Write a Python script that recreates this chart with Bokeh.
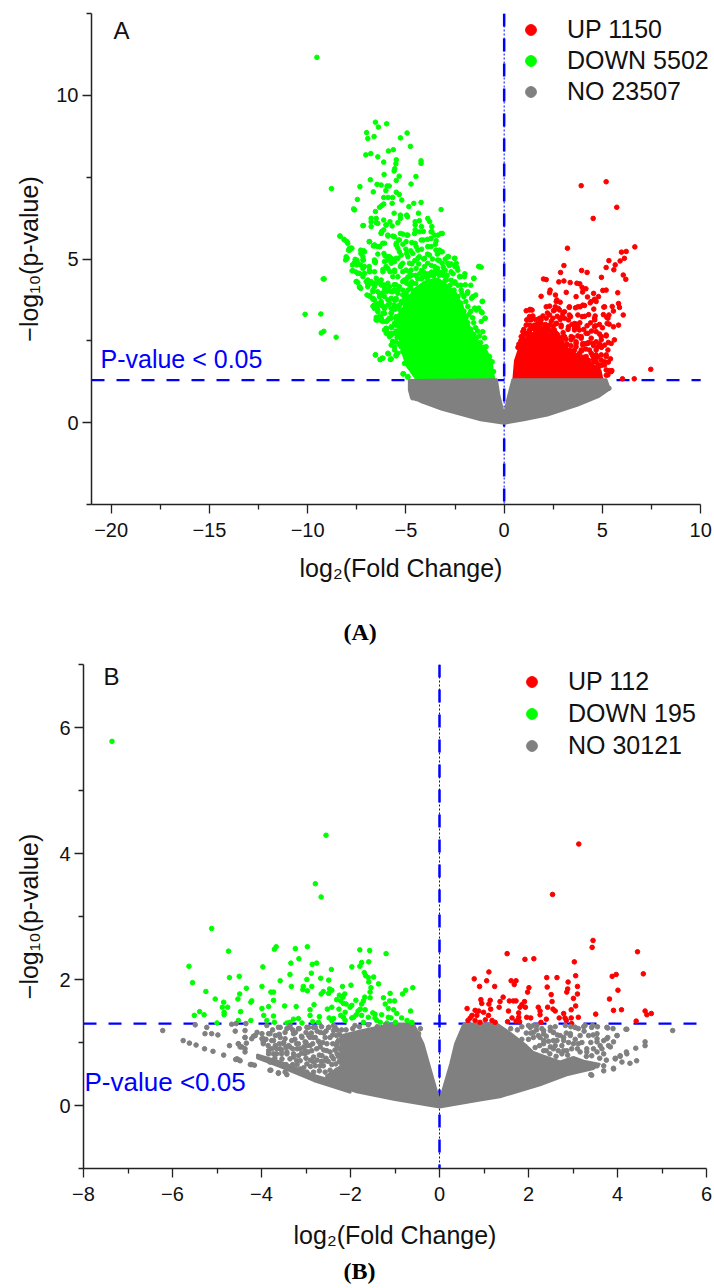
from bokeh.plotting import figure
from bokeh.layouts import column
from bokeh.models import Range1d, FixedTicker, Span, Label, Legend, LegendItem, Title
from bokeh.embed import file_html
from bokeh.resources import INLINE

FONT = "Liberation Sans"
BLUE = "#0000FF"; RED = "#FF0000"; GREEN = "#00FF00"; GREY = "#808080"

# ---------- Panel A ----------
a_xticks = [-20, -15, -10, -5, 0, 5, 10]
a_xminor = [-17.5, -12.5, -7.5, -2.5, 2.5, 7.5]
a_yticks = [0, 5, 10]
a_yminor = [-2.5, 2.5, 7.5, 12.5]
a_threshold = 1.3
a_labels = ["UP 1150", "DOWN 5502", "NO 23507"]

a_down_mass = [(-4.48,1.33),(-4.99,1.76),(-5.24,2.27),(-5.41,2.93),(-5.33,3.24),(-5.07,3.6),(-4.9,3.7),(-4.65,4.05),(-4.05,4.31),
               (-3.38,4.41),(-3.04,4.26),(-2.44,3.95),(-2.1,3.54),(-1.76,2.93),(-1.35,2.5),(-0.9,2.2),(-0.66,1.92),(-0.5,1.33)]
a_up_mass = [(0.47,1.33),(0.55,1.9),(0.8,2.35),(1.2,2.65),(1.7,2.8),(2.3,2.8),(2.8,2.5),(3.2,2.3),(3.6,2.0),(4.1,1.95),(4.55,1.75),
             (4.9,1.6),(5.0,1.33)]
a_no_mass = [(-4.85,1.3),(-0.37,1.33),(-0.25,0.85),(0,0.25),(0.15,0.7),(0.42,1.33),(5.2,1.33),(5.38,1.02),
             (4.8,0.78),(3.75,0.52),(2.2,0.22),(1.0,0.07),(0,-0.03),(-1.2,0.07),(-3.2,0.4),(-4.2,0.62),
             (-4.75,0.78),(-4.85,1.0)]

a_down = [(-9.53,11.16),(-6.55,9.18),(-5.98,9.13),(-6.4,9.03),(-7.0,8.86),(-6.94,8.68),(-6.62,8.74),(-4.94,8.85),
 (-5.28,8.7),(-4.77,8.44),(-5.64,8.34),(-5.89,8.3),(-6.79,8.22),(-7.04,8.18),(-6.43,8.12),(-6.13,7.96),(-5.49,8.03),
 (-5.51,7.91),(-4.23,8.0),(-4.23,7.92),(-5.57,7.76),(-5.6,7.69),(-6.11,7.58),(-5.34,7.53),(-4.49,7.52),(-6.81,7.42),
 (-5.49,7.4),(-4.74,7.29),(-8.79,7.15),(-7.34,7.21),(-6.47,7.28),(-6.26,7.26),(-5.96,7.23),(-5.85,7.23),(-6.02,7.09),
 (-6.66,7.05),(-5.49,7.04),(-5.34,6.97),(-7.47,6.82),(-6.13,6.88),(-5.91,6.88),(-5.68,6.88),(-5.21,6.8),(-6.13,6.68),
 (-6.23,6.63),(-6.34,6.58),(-5.7,6.7),(-4.6,6.7),(-4.23,6.73),(-4.85,6.6),(-7.66,6.53),(-7.62,6.5),(-3.21,6.51),
 (-6.55,6.45),(-5.6,6.4),(-5.28,6.34),(-4.96,6.34),(-5.28,6.24),(-4.92,6.29),(-6.77,6.24),(-6.51,6.24),(-6.77,6.14),
 (-6.51,6.11),(-6.13,6.19),(-5.81,6.14),(-4.36,6.4),(-4.53,6.14),(-4.32,6.17),(-3.89,6.24),(-3.79,6.14),(-4.53,6.04),
 (-4.21,5.99),(-3.68,5.99),(-7.19,6.02),(-6.02,6.04),(-5.7,6.01),(-6.23,5.84),(-6.13,5.89),(-5.28,5.78),(-4.96,5.73),
 (-4.53,5.89),(-4.11,5.84),(-3.68,5.84),(-3.15,5.78),(-3.36,5.73),(-8.36,5.7),(-8.15,5.6),(-8.0,5.53),(-7.87,5.33),
 (-8.04,5.07),(-6.87,5.53),(-6.66,5.4),(-6.34,5.38),(-5.49,5.48),(-5.38,5.58),(-4.53,5.48),(-4.11,5.58),(-3.89,5.38),
 (-3.47,5.27),(-3.15,5.22),(-2.83,5.07),(-2.51,5.02),(-7.3,5.27),(-7.51,4.97),(-7.19,5.07),(-7.72,4.82),(-7.3,4.82),
 (-6.87,4.77),(-6.55,4.92),(-5.91,5.07),(-5.6,4.97),(-4.96,5.17),(-4.32,5.07),(-3.89,4.87),(-3.15,4.87),(-2.51,4.77),
 (-2.23,4.46),(-1.3,4.77),(-1.55,4.41),(-9.21,4.39),(-7.51,4.31),(-7.3,4.1),(-6.87,4.26),(-6.55,4.26),(-6.13,4.21),
 (-5.6,4.21),(-5.81,4.61),(-5.28,4.77),(-4.74,4.66),(-4.96,4.26),(-4.11,4.46),(-3.68,4.26),(-3.47,4.56),(-2.94,4.36),
 (-2.51,4.26),(-2.19,4.05),(-1.87,3.95),(-1.66,3.8),(-6.98,3.9),(-6.23,3.95),(-5.6,4.05),
 (-7.16,6.02),(-6.77,5.99),(-6.43,6.09),(-6.0,6.04),(-5.41,6.11),(-8.35,5.7),(-8.13,5.58),(-7.96,5.48),(-7.75,5.33),
 (-7.87,5.27),(-7.58,4.99),(-7.48,4.92),(-7.28,5.17),(-7.11,5.22),(-7.19,4.97),(-7.74,4.64),(-7.53,4.6),(-7.36,4.56),
 (-7.11,4.77),(-6.85,4.66),(-6.6,4.92),(-6.85,5.53),(-6.6,5.4),(-6.43,5.38),(-6.18,5.48),(-6.26,5.78),(-5.92,5.73),
 (-5.58,5.68),(-7.53,4.31),(-7.36,4.15),(-7.02,4.31),(-6.77,4.26),(-6.51,4.41),(-6.34,4.31),(-6.85,3.87),(-6.68,3.77),
 (-6.6,3.6),(-6.43,3.53),(-6.26,3.65),(-6.09,3.5),(-6.43,3.14),(-6.26,3.19),(-6.0,2.83),(-5.92,2.73),(-5.75,2.68),
 (-5.67,2.48),(-5.58,2.22),(-5.5,2.04),(-5.89,2.1),(-5.79,1.93),(-6.55,2.07),(-6.31,1.93),(-6.21,1.97),(-5.12,1.49),
 (-4.9,1.41),(-9.16,4.39),(-10.13,3.31),(-9.33,3.32),(-9.31,2.74),(-9.18,2.79),(-8.55,2.61),
 (-5.9,4.05),(-5.5,3.75),(-5.75,3.35),(-5.3,3.45),(-5.55,3.05),(-5.2,2.9),(-5.72,2.9),
 (-1.17,4.75),(-1.1,3.71),(-1.12,3.36),(-0.97,3.19),(-1.09,2.78),(-1.0,2.59),(-0.92,2.32),(-0.75,2.02),(-0.61,1.86),
 (-0.54,1.56),(-1.45,3.9),(-1.3,3.5),(-1.7,4.2),(-2.0,4.55),(-2.4,4.75),(-2.8,4.8),(-3.3,4.95),(-3.7,4.8),(-4.2,4.65),
 (-4.7,4.3),(-5.0,3.95),(-4.4,4.4),(-3.0,4.65),(-2.6,4.55),
 (-7.62,4.89),(-7.5,4.82),(-7.19,4.71),(-6.6,4.97),(-6.56,4.89),(-7.16,4.97),(-7.28,5.17),(-7.14,5.25),(-7.79,5.33),(-7.92,5.27),
 (-7.99,5.02),(-8.07,4.97),(-7.7,4.64),(-7.45,4.56),(-7.11,4.56),(-6.85,4.61),(-6.6,4.61),(-6.43,5.15),(-6.12,5.17),(-6.06,5.09),
 (-6.6,5.43),(-6.34,5.38),(-6.09,5.48),(-6.85,5.53),(-5.92,4.97),(-5.75,5.02),(-5.5,5.02),(-5.24,5.12),(-5.5,5.43),(-5.41,5.33),
 (-5.33,5.22),(-4.99,5.53),(-5.33,5.58),(-5.67,5.7),(-5.92,5.7),(-6.26,5.8),(-5.16,5.76),(-4.9,5.73),(-4.56,5.78),(-4.31,5.83),
 (-3.72,5.83),(-3.55,5.73),(-3.72,5.63),(-3.46,5.56),(-3.21,5.78),(-4.22,5.58),(-4.48,5.38),(-4.65,5.17),(-4.39,5.27),(-3.72,5.38),
 (-3.29,5.27),(-3.21,5.22),(-2.87,5.07),(-2.53,5.02),(-2.44,4.87),(-2.87,4.87),(-3.38,4.97),(-3.8,5.12),(-4.05,5.02),(-4.39,5.02),
 (-4.9,5.07),(-4.82,4.87),(-5.16,4.87),(-5.75,4.87),(-6.01,4.77),(-6.17,4.68),(-5.58,4.61),(-5.16,4.61),(-4.82,4.61),(-4.48,4.71),
 (-4.05,4.77),(-3.55,4.77),(-3.12,4.61),(-2.7,4.61),(-2.36,4.66),(-2.27,4.46),(-2.02,4.46),(-1.98,4.21),(-1.85,4.0),(-1.59,3.85),
 (-1.26,4.77),(-1.54,4.41),(-1.12,3.7),(-1.17,3.39),(-0.97,3.19),(-1.17,3.09),(-1.42,3.44),(-6.77,4.31),(-6.51,4.26),(-6.94,4.36),
 (-7.19,4.46),(-7.45,4.28),(-7.36,4.13),(-6.94,4.15),(-6.6,4.15),(-6.26,4.21),(-6.09,4.15),(-5.84,4.15),(-5.5,4.21),(-5.16,4.31),
 (-4.99,4.36),(-4.82,4.21),(-5.16,4.05),(-5.41,4.05),(-5.75,4.0),(-6.09,4.05),(-6.43,4.0),(-6.68,4.05),(-6.85,3.87),(-6.68,3.8),
 (-6.34,3.85),(-6.09,3.85),(-5.75,3.8),(-5.5,3.8),(-5.07,3.8),(-6.68,3.56),(-6.43,3.63),(-6.17,3.56),(-5.92,3.59),(-5.58,3.46),
 (-5.33,3.59),(-6.43,3.39),(-6.17,3.34),(-5.75,3.34),(-6.51,3.22),(-6.26,3.12),(-5.92,3.14),(-5.5,3.19),(-6.0,2.88),(-6.34,3.24),
 (-6.09,2.83),(-6.0,2.73),(-5.75,2.73),(-5.67,2.47),(-5.58,2.32),(-5.5,2.07),(-6.55,2.07),(-6.31,1.93),(-6.17,1.97),(-5.92,2.12),
 (-5.75,1.95),(-5.15,1.49),(-4.9,1.38),(-6.51,3.14),(-6.26,3.19),(-6.0,3.09),(-5.75,3.19),(-5.58,3.03),(-6.6,3.49),(-6.34,3.59),
 (-6.09,3.49),(-5.84,3.65),(-5.45,2.6),(-5.5,2.8),(-5.6,3.6),(-5.2,3.35),
 (-6.09,4.92),(-5.84,5.07),(-5.58,4.92),(-5.41,5.02),(-5.92,4.71),(-5.58,4.66),(-6.17,4.61),(-5.24,4.82),(-4.99,4.66),(-5.41,4.46),
 (-5.67,4.46),(-6.26,4.36),(-6.6,4.26),(-6.94,4.21),(-6.26,4.21),(-5.92,4.26),(-5.58,4.21),(-5.33,4.15),(-5.07,4.36),(-4.82,4.46),
 (-4.73,4.21),(-6.68,4.0),(-6.34,3.9),(-6.0,4.0),(-5.67,4.0),(-5.41,3.95),(-5.16,3.9),(-4.9,4.05),(-6.6,3.75),(-6.26,3.7),(-5.92,3.75),
 (-5.58,3.75),(-5.24,3.7),(-4.99,3.75),(-6.43,3.44),(-6.09,3.34),(-5.75,3.49),(-5.5,3.54),(-5.16,3.44),(-6.51,3.14),(-6.17,3.09),
 (-5.84,3.19),(-5.5,3.24),(-5.24,3.14),(-6.0,2.88),(-5.75,2.93),(-5.5,2.98),(-5.24,2.83),(-5.84,2.63),(-5.58,2.73),(-5.24,2.63),
 (-5.75,2.37),(-5.5,2.47),(-5.24,2.32),(-5.41,2.12),(-5.16,2.17),(-4.99,2.02),(-5.07,1.81),(-4.73,1.71),(-4.56,1.56),
 (-4.9,4.45),(-4.7,4.5),(-4.5,4.5),(-4.3,4.55),(-4.1,4.6),(-3.9,4.55),(-3.7,4.6),(-3.5,4.65),(-3.3,4.6),(-3.1,4.5),(-2.9,4.5),(-2.7,4.35),
 (-2.5,4.3),(-2.35,4.2),(-2.2,4.2),(-2.15,3.95),(-2.05,3.85),(-1.95,3.7),(-1.85,3.55),(-1.8,3.3),(-1.7,3.4),(-1.6,3.2),(-1.55,3.05),
 (-1.45,2.9),(-1.35,2.8),(-1.25,2.65),(-1.5,3.5),(-4.7,4.85),(-4.35,4.85),(-4.1,5.0),(-3.65,5.0),(-3.4,5.15),(-3.0,5.0),(-2.7,4.85),
 (-3.9,5.15),(-4.2,5.3),(-3.5,5.45),(-3.9,5.6),(-4.7,5.5),(-5.0,5.3),(-5.15,5.45),(-4.75,5.25),(-4.55,4.95),(-3.1,4.75),(-3.4,4.72),(-3.8,4.5),
 (-5.1,3.65),(-4.9,3.85),(-4.75,4.1),(-4.5,4.25),(-4.2,4.4),(-3.9,4.42),(-3.6,4.48),(-3.3,4.5),(-3.0,4.35),(-2.75,4.2),(-2.55,4.05),
 (-2.35,3.85),(-2.2,3.65),(-2.05,3.4),(-1.95,3.2),(-1.85,3.05),(-1.7,2.85),(-1.55,2.7),(-1.4,2.6),(-1.2,2.45),(-1.05,2.3),
 (-5.35,2.4),(-5.45,2.7),(-5.45,3.1),(-5.3,3.3)]

a_up = [(3.92,7.24),(5.19,7.36),(5.73,6.58),(4.53,6.24),(3.22,5.33),(6.65,5.37),(6.21,5.23),(5.97,5.21),(6.12,5.02),
 (5.33,4.95),(5.9,4.94),(5.65,4.82),(3.04,4.8),(5.19,4.74),(5.58,4.67),(2.87,4.59),(3.94,4.65),(4.22,4.59),(6.06,4.51),
 (6.19,4.38),(4.95,4.44),(2.0,4.39),(2.14,4.37),(2.78,4.3),(3.04,4.33),(3.36,4.28),(3.7,4.26),(3.85,4.24),(3.97,4.13),
 (4.16,4.09),(3.99,3.99),(5.02,4.04),(5.19,4.05),(5.78,3.97),(4.55,3.95),(4.24,3.84),(4.8,3.85),(4.6,3.77),(3.66,3.85),
 (3.16,3.98),(2.34,4.05),(2.31,3.97),(2.61,3.9),(1.88,3.86),(2.68,3.75),(2.85,3.68),(2.31,3.56),(2.6,3.54),(2.51,3.42),
 (2.76,3.49),(3.31,3.52),(3.63,3.51),(3.87,3.54),(4.09,3.58),(4.38,3.66),(4.68,3.7),(4.56,3.47),(5.07,3.53),(5.5,3.55),
 (5.82,3.64),(5.87,3.52),(5.56,3.41),(5.33,3.29),(5.22,3.22),(6.06,3.29),(4.63,3.26),(4.61,3.14),(3.75,3.29),(3.97,3.24),
 (3.38,3.24),(3.27,3.14),(2.99,3.34),(2.95,3.24),(2.48,3.19),(1.97,3.26),(1.85,3.16),(1.71,3.03),(1.32,3.46),(1.42,3.44),
 (1.46,3.26),(1.37,3.14),(1.15,3.14),(1.29,2.98),(1.46,2.88),(2.09,2.93),(2.65,3.03),(2.9,2.98),(3.66,3.01),(3.58,2.88),
 (4.22,2.96),(4.65,2.96),(5.24,3.03),(5.34,3.01),(5.56,2.93),(5.82,2.98),(3.27,2.93),(1.03,2.73),(0.95,2.63),(4.68,2.78),
 (4.85,2.71),(5.19,2.65),(5.61,2.53),(5.45,2.42),(4.94,2.53),(4.26,2.73),(3.92,2.63),(3.41,2.53),(3.66,2.42),(4.51,2.42),
 (4.77,2.32),(5.28,2.22),(4.26,2.42),(4.0,2.42),(3.07,2.63),(2.65,2.73),(2.31,2.83),(1.97,2.73),(1.63,2.78),(5.41,1.95),
 (5.36,1.59),(5.48,1.59),(5.28,1.46),(7.46,1.63),(6.02,1.34),(6.62,1.34),(3.92,2.22),(4.43,2.12),(4.68,2.07),(4.94,2.07),
 (5.19,2.02),(5.11,1.86),(4.85,1.76),(3.58,2.22),(3.32,2.12),(3.41,1.91),(3.83,2.12),(3.83,1.86),(4.26,1.91),(4.68,1.86),
 (4.68,1.56),(4.43,1.66),(4.09,1.61),
 (0.87,2.63),(0.95,2.78),(1.12,2.73),(1.29,2.83),(1.46,2.68),(1.71,2.63),(1.8,2.78),(2.05,2.73),(2.22,2.88),(2.39,2.73),(2.56,2.83),
 (2.73,2.68),(2.9,2.58),(2.9,2.93),(2.65,3.03),(2.31,2.98),(1.88,3.03),(1.54,2.98),(1.12,2.98),(1.2,3.14),(1.29,3.24),(1.8,3.19),
 (1.88,3.14),(2.14,3.19),(2.31,3.29),(2.56,3.44),(2.82,3.44),(3.07,3.39),(3.07,3.19),(3.32,3.29),(3.58,3.03),(3.75,2.93),(3.83,2.83),
 (3.58,2.83),(3.41,2.63),(3.66,2.47),(3.92,2.58),(4.17,2.73),(4.17,2.42),(4.0,2.37),(3.66,2.32),(3.41,2.17),(4.43,2.58),(4.68,2.47),
 (4.94,2.63),(5.19,2.68),(5.11,2.37),(4.68,2.22),(4.34,2.22),(4.17,2.02),(3.75,2.02),(5.19,2.07),(4.94,1.91),(4.77,1.76),(4.6,3.19),
 (4.6,2.93),(5.11,3.54),(5.28,3.19),(4.43,3.7),(4.0,3.59),(3.75,3.54),(3.32,3.54),(2.65,3.7),(2.14,3.54),(1.29,3.44),(1.12,3.42),
 (3.83,1.71),(3.41,1.81),(3.66,1.61),(4.26,1.56),(4.85,1.46),(5.19,1.61),(5.45,1.56),(5.11,1.76),
 (0.75,2.4),(0.85,2.5),(1.0,2.85),(1.15,2.7),(1.35,2.95),(1.6,3.15),(1.65,2.9),(1.95,2.85),(2.1,3.0),(2.2,3.35),(2.4,3.1),(2.5,2.95),
 (2.7,3.25),(2.85,3.15),(3.0,2.75),(3.15,2.55),(3.25,2.85),(3.45,3.0),(3.5,2.6),(3.75,2.65),(3.85,3.05),(4.05,2.85),(4.1,3.25),(4.3,3.3),
 (4.4,3.05),(4.45,2.8),(4.85,3.0),(5.0,2.9),(5.05,3.3),(4.3,2.45),(4.55,2.35),(4.85,2.4),(5.3,2.45),(3.95,2.2),(4.15,2.25),(4.5,2.05),
 (4.75,2.0),(4.95,2.3),(5.3,1.85),(5.2,1.45),(4.95,1.75),(4.55,1.95),(3.4,2.35),(3.15,2.35),(2.95,2.6),(2.55,2.65),(1.6,2.55),(1.1,2.5),
 (0.7,2.3),(0.95,2.55),(1.3,2.75),(1.55,2.85),(1.85,2.9),(2.15,2.9),(2.45,2.8),(2.7,2.6),(2.95,2.45),(3.2,2.4),(3.35,2.2),(3.55,2.1),
 (3.75,2.05),(4.0,2.0),(4.3,1.9),(4.55,1.85),(4.8,1.7)]

a_no = [(-4.65,0.76),(-4.48,0.74),(-4.14,0.67),(-3.97,0.64),(5.02,0.95),(5.19,1.02),(5.33,1.05)]

# ---------- Panel B ----------
b_xticks = [-8, -6, -4, -2, 0, 2, 4, 6]
b_xminor = [-7, -5, -3, -1, 1, 3, 5]
b_yticks = [0, 2, 4, 6]
b_yminor = [-1, 1, 3, 5, 7]
b_threshold = 1.3
b_labels = ["UP 112", "DOWN 195", "NO 30121"]

b_no_mass = [(-1.03,1.3),(-0.58,1.3),(-0.36,0.98),(0,0.08),(0.24,0.66),(0.35,0.98),(0.54,1.3),(1.29,1.3),(1.6,1.15),(1.96,0.95),
             (2.11,0.85),(2.34,0.79),(2.71,0.7),(3.01,0.77),(3.24,0.71),(3.61,0.66),(3.46,0.58),(2.86,0.48),(2.26,0.32),(1.36,0.13),
             (0.91,0.08),(0,-0.03),(-1.03,0.09),(-1.86,0.21),(-2.53,0.37),(-2.55,0.47),(-2.23,0.62),(-2.23,1.11),(-1.78,1.19)]
b_no_band = [(-4.1,0.81),(-3.58,0.7),(-2.83,0.49),(-2.2,0.35),(-2.0,0.4),(-2.0,0.2),(-2.83,0.39),(-3.58,0.61),(-4.1,0.75)]

b_down = [(-7.36,5.78),(-2.55,4.29),(-2.79,3.52),(-2.66,3.31),(-5.12,2.81),(-3.67,2.52),(-3.71,2.48),(-2.97,2.52),(-3.24,2.49),
 (-4.74,2.45),(-1.79,2.47),(-1.57,2.46),(-1.2,2.41),(-3.16,2.33),(-3.34,2.26),(-2.86,2.24),(-2.76,2.26),(-1.75,2.27),(-1.59,2.28),
 (-1.79,2.21),(-1.97,2.2),(-5.63,2.21),(-3.97,2.2),(-2.43,2.16),(-2.88,2.1),(-3.36,2.08),(-1.69,2.11),(-1.66,2.06),(-1.6,2.03),
 (-1.48,2.04),(-4.5,2.05),(-4.72,2.03),(-2.67,2.02),(-2.49,1.99),(-2.98,2.0),(-3.58,1.98),(-5.55,1.95),(-1.59,1.96),(-1.37,1.93),
 (-1.99,1.91),(-2.18,1.89),(-3.99,1.89),(-3.33,1.89),(-3.06,1.89),(-2.87,1.89),(-1.54,1.87),(-0.6,1.87),(-0.76,1.83),(-4.34,1.86),
 (-5.25,1.81),(-3.79,1.8),(-3.73,1.8),(-3.07,1.84),(-2.97,1.82),(-2.47,1.85),(-2.42,1.83),(-2.61,1.81),(-2.66,1.77),(-2.49,1.78),
 (-4.49,1.77),(-1.56,1.8),(-1.11,1.78),(-0.83,1.77),(-2.13,1.77),(-2.25,1.75),(-2.17,1.72),(-1.68,1.72),(-1.56,1.71),(-1.26,1.71),
 (-4.53,1.69),(-5.04,1.69),(-3.73,1.67),(-4.22,1.66),(-4.24,1.64),(-4.85,1.64),(-2.31,1.68),(-2.22,1.66),(-1.88,1.67),(-1.71,1.66),
 (-1.12,1.66),(-1.01,1.66),(-2.16,1.62),(-2.1,1.61),(-2.82,1.6),(-1.97,1.59),(-1.75,1.61),(-1.22,1.61),(-2.01,1.56),(-3.48,1.58),
 (-3.22,1.57),(-3.84,1.57),(-4.88,1.56),(-4.76,1.56),(-3.99,1.54),(-2.52,1.53),(-2.42,1.56),(-2.26,1.53),(-2.91,1.52),(-1.15,1.54),
 (-1.03,1.52),(-0.65,1.5),(-1.78,1.53),(-1.67,1.52),(-1.83,1.5),(-2.12,1.48),(-4.47,1.49),(-5.39,1.49),(-5.29,1.44),(-5.51,1.43),
 (-4.84,1.48),(-4.84,1.44),(-2.91,1.43),(-3.95,1.43),(-3.73,1.42),(-2.7,1.41),(-2.22,1.43),(-1.87,1.44),(-1.75,1.43),(-1.5,1.47),
 (-1.45,1.45),(-1.3,1.44),(-0.96,1.46),(-0.85,1.39),(-1.15,1.4),(-1.09,1.39),(-2.16,1.4),(-1.97,1.39),(-1.93,1.4),(-1.6,1.4),
 (-1.45,1.39),(-2.48,1.39),(-2.38,1.38),(-3.17,1.38),(-3.28,1.37),(-4.52,1.35),(-4.24,1.35),(-3.88,1.35),(-5.0,1.31),(-3.71,1.32),
 (-3.43,1.31),(-3.36,1.32),(-3.09,1.31),(-2.85,1.33),(-2.72,1.32),(-2.42,1.35),(-2.12,1.35),(-1.71,1.32),(-1.41,1.35),(-1.33,1.32),
 (-1.18,1.31),(-0.99,1.32),(-0.73,1.35),(-0.62,1.32)]

b_up = [(3.13,4.15),(2.54,3.35),(3.45,2.62),(3.43,2.51),(4.45,2.44),(1.52,2.41),(1.92,2.32),(2.12,2.33),(3.03,2.28),(1.11,2.12),
 (0.78,2.01),(1.06,1.98),(1.61,1.98),(1.72,1.98),(2.41,2.03),(2.64,2.03),(3.06,2.06),(3.88,2.05),(3.97,2.08),(4.58,2.09),(0.9,1.89),
 (1.24,1.89),(1.68,1.92),(2.01,1.87),(2.42,1.88),(2.89,1.96),(3.1,1.89),(1.98,1.8),(2.88,1.85),(2.86,1.8),(4.01,1.83),(3.1,1.77),
 (2.51,1.76),(1.43,1.72),(3.01,1.7),(3.82,1.69),(0.93,1.68),(1.14,1.67),(1.57,1.66),(1.66,1.66),(1.72,1.66),(1.91,1.65),(1.36,1.65),
 (2.53,1.65),(0.95,1.62),(1.11,1.61),(1.85,1.6),(3.06,1.58),(0.62,1.54),(1.34,1.56),(1.15,1.53),(1.81,1.56),(1.93,1.56),(2.22,1.56),
 (2.43,1.56),(2.55,1.53),(2.96,1.52),(3.91,1.51),(4.09,1.52),(4.62,1.5),(0.8,1.51),(0.88,1.5),(0.99,1.48),(1.55,1.5),(2.26,1.5),
 (2.6,1.5),(1.78,1.47),(4.66,1.44),(4.76,1.46),(3.51,1.45),(2.26,1.44),(2.79,1.46),(0.73,1.43),(0.84,1.43),(1.1,1.43),(1.78,1.4),
 (1.96,1.4),(1.63,1.39),(2.05,1.39),(2.69,1.39),(2.4,1.37),(2.82,1.39),(2.96,1.39),(3.12,1.4),(0.69,1.39),(0.64,1.35),(0.8,1.35),
 (1.03,1.36),(1.18,1.35),(1.53,1.33),(1.72,1.34),(1.8,1.33),(2.28,1.32),(2.85,1.35),(2.97,1.3),(4.42,1.34),(0.91,1.32),(1.25,1.32)]

b_no = [(-6.22,1.19),(-5.76,1.03),(-5.62,0.99),(-5.47,0.96),(-5.28,0.9),(-5.09,0.86),(-4.85,0.8),(-4.58,0.73),(-4.5,0.72),(-4.25,0.65),
 (-4.16,0.64),(-3.79,0.56),(-3.62,0.51),(-3.43,0.49),(-5.49,1.28),(-5.23,1.24),(-5.27,1.14),(-5.12,1.14),(-4.98,1.12),(-4.67,1.29),
 (-4.59,1.18),(-4.72,0.95),(-4.52,0.98),(-4.44,0.93),(-4.37,1.08),(-4.35,1.3),(-4.34,0.99),(-4.37,0.85),(-4.1,1.16),(-4.18,1.1),
 (-3.99,1.06),(-3.96,0.98),(-3.88,1.27),(-3.81,1.14),(-3.73,1.03),(-3.84,0.87),(-3.66,0.9),(-3.58,1.08),(-3.62,1.24),(-3.43,1.22),
 (-3.36,1.27),(-3.28,1.14),(-3.17,0.98),(-3.36,0.93),(-3.43,0.85),(-3.28,0.77),(-3.13,0.71),(-3.02,0.82),(-2.91,1.08),(-2.79,1.24),
 (-2.68,0.98),(-2.76,0.9),(-2.83,0.69),(-2.61,0.63),(-2.49,1.24),(-2.46,1.08),(-2.53,0.87),(-2.38,1.27),(-2.98,1.24),(-3.17,1.22),
 (-3.81,0.69),(-2.98,0.95),(-2.83,1.08),(-3.54,0.74),(-3.73,0.82),(-0.43,1.22),(-0.47,1.14),(-0.4,0.93),
 (-3.1,1.1),(-3.0,1.0),(-2.6,1.15),(-2.55,0.75),(-2.7,0.8),(-2.9,0.62),(-3.05,0.6),(-3.2,0.9),(-3.5,1.0),(-3.55,0.88),(-3.2,0.65),
 (-4.57,1.3),(-4.37,1.19),(-4.37,1.08),(-4.14,1.11),(-4.22,1.06),(-3.99,1.14),(-3.96,1.06),(-3.96,1.01),(-3.84,1.14),(-3.77,1.03),
 (-3.69,1.11),(-3.58,1.24),(-3.47,1.16),(-3.36,1.24),(-3.24,1.16),(-3.09,1.08),(-2.94,1.24),(-2.94,1.11),(-2.83,1.24),(-2.68,1.16),
 (-2.49,1.24),(-2.38,1.19),(-3.77,0.9),(-3.69,0.95),(-3.84,0.82),(-3.66,0.82),(-3.51,0.98),(-3.47,1.06),(-3.32,1.03),(-3.39,0.95),
 (-3.58,0.9),(-3.21,0.98),(-3.13,0.9),(-3.02,1.01),(-2.91,0.95),(-2.79,1.08),(-2.57,1.08),(-2.31,1.11),(-3.43,0.82),(-3.28,0.82),
 (-3.17,0.79),(-3.02,0.87),(-2.87,0.87),(-2.68,0.93),(-2.53,0.98),(-2.46,0.85),(-2.64,0.79),(-2.83,0.77),(-2.98,0.66),(-3.21,0.71),
 (-3.36,0.74),(-2.79,0.63),(-2.68,0.63),(-2.57,0.71),(-2.38,0.74),(-2.46,0.56),(-2.57,0.53),(-2.83,0.53),(-2.98,0.53),(-3.13,0.58),
 (-2.31,0.56),(-3.81,0.56),(-3.62,0.52),(-3.47,0.53),(-4.22,0.65),(-4.55,0.74),(-4.48,0.71),(-4.52,0.98),(-4.48,0.93),(-4.37,0.9),
 (-2.31,0.95),(-2.3,0.82),(-2.33,0.66),(-2.4,0.98),(-2.38,0.45),
 (-2.35,1.25),(-2.3,1.0),(-2.35,0.88),(-2.42,0.78),(-2.42,0.65),(-2.5,0.7),(-2.6,0.88),(-2.62,1.0),(-2.75,1.18),(-2.72,1.02),(-2.85,0.98),
 (-2.95,0.85),(-3.05,0.93),(-3.0,0.75),(-3.1,0.83),(-3.25,1.05),(-3.3,0.9),(-3.15,1.22),(-3.45,0.92),(-3.6,0.98),(-3.6,1.13),(-3.75,1.2),
 (-3.9,1.05),(-3.85,0.95),(-3.7,0.75),(-3.55,0.82),(-3.3,0.65),(-3.45,0.65),(-2.7,0.55),(-2.65,0.7),(-2.75,0.72),(-2.9,0.72),(-2.4,1.12),
 (-2.55,1.18),(-2.65,1.25),(-3.0,1.16),(-2.88,1.15),(-3.3,1.2),
 (-2.25,0.7),(-2.27,0.78),(-2.25,0.9),(-2.27,1.03),(-2.25,1.13),(-2.2,1.2),(-2.1,1.2),(-1.95,1.22),(-1.8,1.25),(-1.6,1.28),(-1.4,1.25),
 (-1.2,1.28),(-1.9,1.27),(-2.3,1.2),
 (5.24,1.19),(4.19,1.21),(3.78,1.23),(3.44,1.27),(3.24,1.25),(3.05,1.24),(2.83,1.27),(3.54,1.14),(3.9,1.22),(3.99,1.11),(3.78,1.08),
 (3.69,1.03),(3.54,1.01),(3.65,0.9),(3.84,0.93),(3.46,0.9),(3.31,0.85),(4.62,1.01),(4.62,0.95),(4.41,0.91),(4.2,0.85),(4.06,0.78),
 (3.95,0.75),(4.1,0.69),(4.28,0.67),(4.43,0.71),(3.91,0.59),(3.69,0.55),(3.4,0.49),(3.54,0.63),
 (2.94,1.14),(2.79,1.08),(2.64,1.03),(2.49,1.24),(2.34,1.19),(2.19,1.27),(2.04,1.24),(2.11,1.08),(2.34,0.98),(2.56,0.9),(2.79,0.87),
 (3.01,0.98),(3.16,1.11),(2.26,1.08),(2.56,1.16),
 (2.0,1.27),(2.11,1.27),(2.11,1.16),(2.22,1.11),(2.34,1.14),(2.49,1.19),(2.56,1.16),(2.56,1.03),(2.34,1.03),(2.49,0.93),(2.34,0.87),
 (2.71,1.11),(2.79,1.03),(2.94,1.11),(3.05,1.24),(3.12,1.22),(3.27,1.27),(3.42,1.24),(3.35,1.11),(3.12,0.98),(2.97,0.9),(2.86,0.87),
 (2.67,0.87),(2.75,0.95),(3.16,0.85),(3.31,0.9),(3.54,1.06),(3.61,0.95),(3.76,1.06),(3.76,1.24),(3.99,1.11),(3.91,1.01),(4.21,1.21),
 (3.54,0.85),(3.42,0.79),(3.69,0.82),(3.69,0.63),(3.91,0.58),(4.06,0.79),(4.21,0.82),(3.95,0.74),(3.42,0.48),
 (1.6,1.22),(1.75,1.2),(1.85,1.25),(1.95,1.15),(1.85,1.05),(2.0,1.05),(2.05,1.15),(2.18,1.2),(2.3,1.22),(2.4,1.1),(2.45,1.02),(2.25,0.95),
 (2.4,0.87),(2.15,0.92),(2.6,0.95),(2.65,1.12),(2.85,1.15),(2.9,1.0),(2.75,0.82),(2.88,0.8),(3.05,1.05),(3.2,1.0),(3.25,1.18),(3.1,0.9),
 (3.4,1.0),(3.45,1.12),(3.3,0.78),(3.6,0.75),(3.75,0.72),(3.8,0.95),(3.55,1.25),(2.6,1.25),(2.95,1.25),(2.48,0.82),(2.62,0.78)]


def unzip(pairs):
    return [p[0] for p in pairs], [p[1] for p in pairs]


def panel(xr, x_view_max, yr, xt, xm, yt, ym, thr, down, up, no, masses, labels, letter, pval, pval_size,
          width, height, left, right, top, bottom, ystand, xstand, legend_loc, legend_spacing, letter_pos, pval_pos, captions):
    p = figure(width=width, height=height, output_backend="svg", toolbar_location=None,
               x_range=Range1d(xr[0], x_view_max), y_range=Range1d(*yr), frame_align=False,
               min_border_left=left, min_border_right=right, min_border_top=top, min_border_bottom=bottom,
               x_axis_label="log\u2082(Fold Change)", y_axis_label="\u2212log\u2081\u2080(p-value)")
    p.outline_line_color = None
    p.grid.visible = False
    p.background_fill_color = "white"
    p.xaxis.ticker = FixedTicker(ticks=xt, minor_ticks=xm)
    p.yaxis.ticker = FixedTicker(ticks=yt, minor_ticks=ym)
    p.xaxis.bounds = xr
    for ax in (p.xaxis[0], p.yaxis[0]):
        ax.axis_line_color = "#222222"; ax.axis_line_width = 1.5
        ax.major_tick_line_color = "#222222"; ax.minor_tick_line_color = "#222222"
        ax.major_tick_line_width = 1.3; ax.minor_tick_line_width = 1.3
        ax.major_tick_in = 0; ax.major_tick_out = 9
        ax.minor_tick_in = 0; ax.minor_tick_out = 5
        ax.major_label_text_font = FONT; ax.major_label_text_font_size = "20px"
        ax.major_label_text_color = "#111111"
        ax.axis_label_text_font = FONT; ax.axis_label_text_font_size = "25px"
        ax.axis_label_text_font_style = "normal"; ax.axis_label_text_color = "#111111"
    p.xaxis.major_label_standoff = 9
    p.xaxis.axis_label_standoff = xstand
    p.yaxis.major_label_standoff = 4
    p.yaxis.axis_label_standoff = ystand

    p.line(list(xr), [thr, thr], line_color=BLUE, line_width=2.2, line_dash="13 12", level="underlay")
    p.add_layout(Span(location=0, dimension="height", line_color=BLUE, line_width=1, line_dash="2 2", level="underlay"))
    p.add_layout(Span(location=0, dimension="height", line_color=BLUE, line_width=2.5, line_dash="13 12", level="underlay"))

    colors = {"down": GREEN, "up": RED, "no": GREY}
    for key, poly in masses:
        x, y = unzip(poly)
        p.patch(x, y, fill_color=colors[key], line_color=colors[key], line_width=2)
    x, y = unzip(down); rd = p.scatter(x, y, size=4.6, color=GREEN)
    x, y = unzip(up);   ru = p.scatter(x, y, size=4.6, color=RED)
    x, y = unzip(no);   rn = p.scatter(x, y, size=4.6, color=GREY)

    leg = Legend(items=[LegendItem(label=labels[0], renderers=[ru]),
                        LegendItem(label=labels[1], renderers=[rd]),
                        LegendItem(label=labels[2], renderers=[rn])],
                 location=legend_loc, orientation="vertical",
                 background_fill_alpha=0, border_line_color=None,
                 padding=0, margin=0, spacing=legend_spacing, glyph_height=27, glyph_width=27,
                 label_standoff=23, label_text_font=FONT, label_text_font_size="25px",
                 label_text_color="#111111", label_height=27, label_text_baseline="middle")
    p.add_layout(leg)

    p.add_layout(Label(x=letter_pos[0], y=letter_pos[1], x_units="screen", y_units="screen", text=letter,
                       text_font=FONT, text_font_size="24px", text_color="#111111", text_baseline="middle"))
    p.add_layout(Label(x=pval_pos[0], y=pval_pos[1], x_units="screen", y_units="screen", text=pval,
                       text_font=FONT, text_font_size=pval_size, text_color=BLUE, text_baseline="middle"))
    for text, place, offset, standoff in captions:
        p.add_layout(Title(text=text, align="left", offset=offset, standoff=standoff,
                           text_font="Liberation Serif", text_font_size="24px", text_font_style="bold",
                           text_color="black"), place)
    return p


pa = panel((-21, 10), 10.5, (-2.5, 12.5), a_xticks, a_xminor, a_yticks, a_yminor, a_threshold, a_down, a_up, a_no,
           [("down", a_down_mass), ("up", a_up_mass), ("no", a_no_mass)], a_labels, "A", "P-value < 0.05", "25px",
           714, 595, 91, 4, 13, 91, 10, 14, (426, 398), 2, (22, 474), (9, 146), [])
pb = panel((-8, 6), 6, (-1, 7), b_xticks, b_xminor, b_yticks, b_yminor, b_threshold, b_down, b_up, b_no,
           [("no", b_no_mass), ("no", b_no_band)], b_labels, "B", "P-value <0.05", "26px",
           714, 693, 83, 8, 69, 120, 13, 17, (435, 408), 3, (20, 492), (1, 87),
           [("(A)", "above", 260, 39), ("(B)", "below", 260, 9)])

layout = column(pa, pb, spacing=0)
open("out.html", "w").write(file_html(layout, INLINE))
